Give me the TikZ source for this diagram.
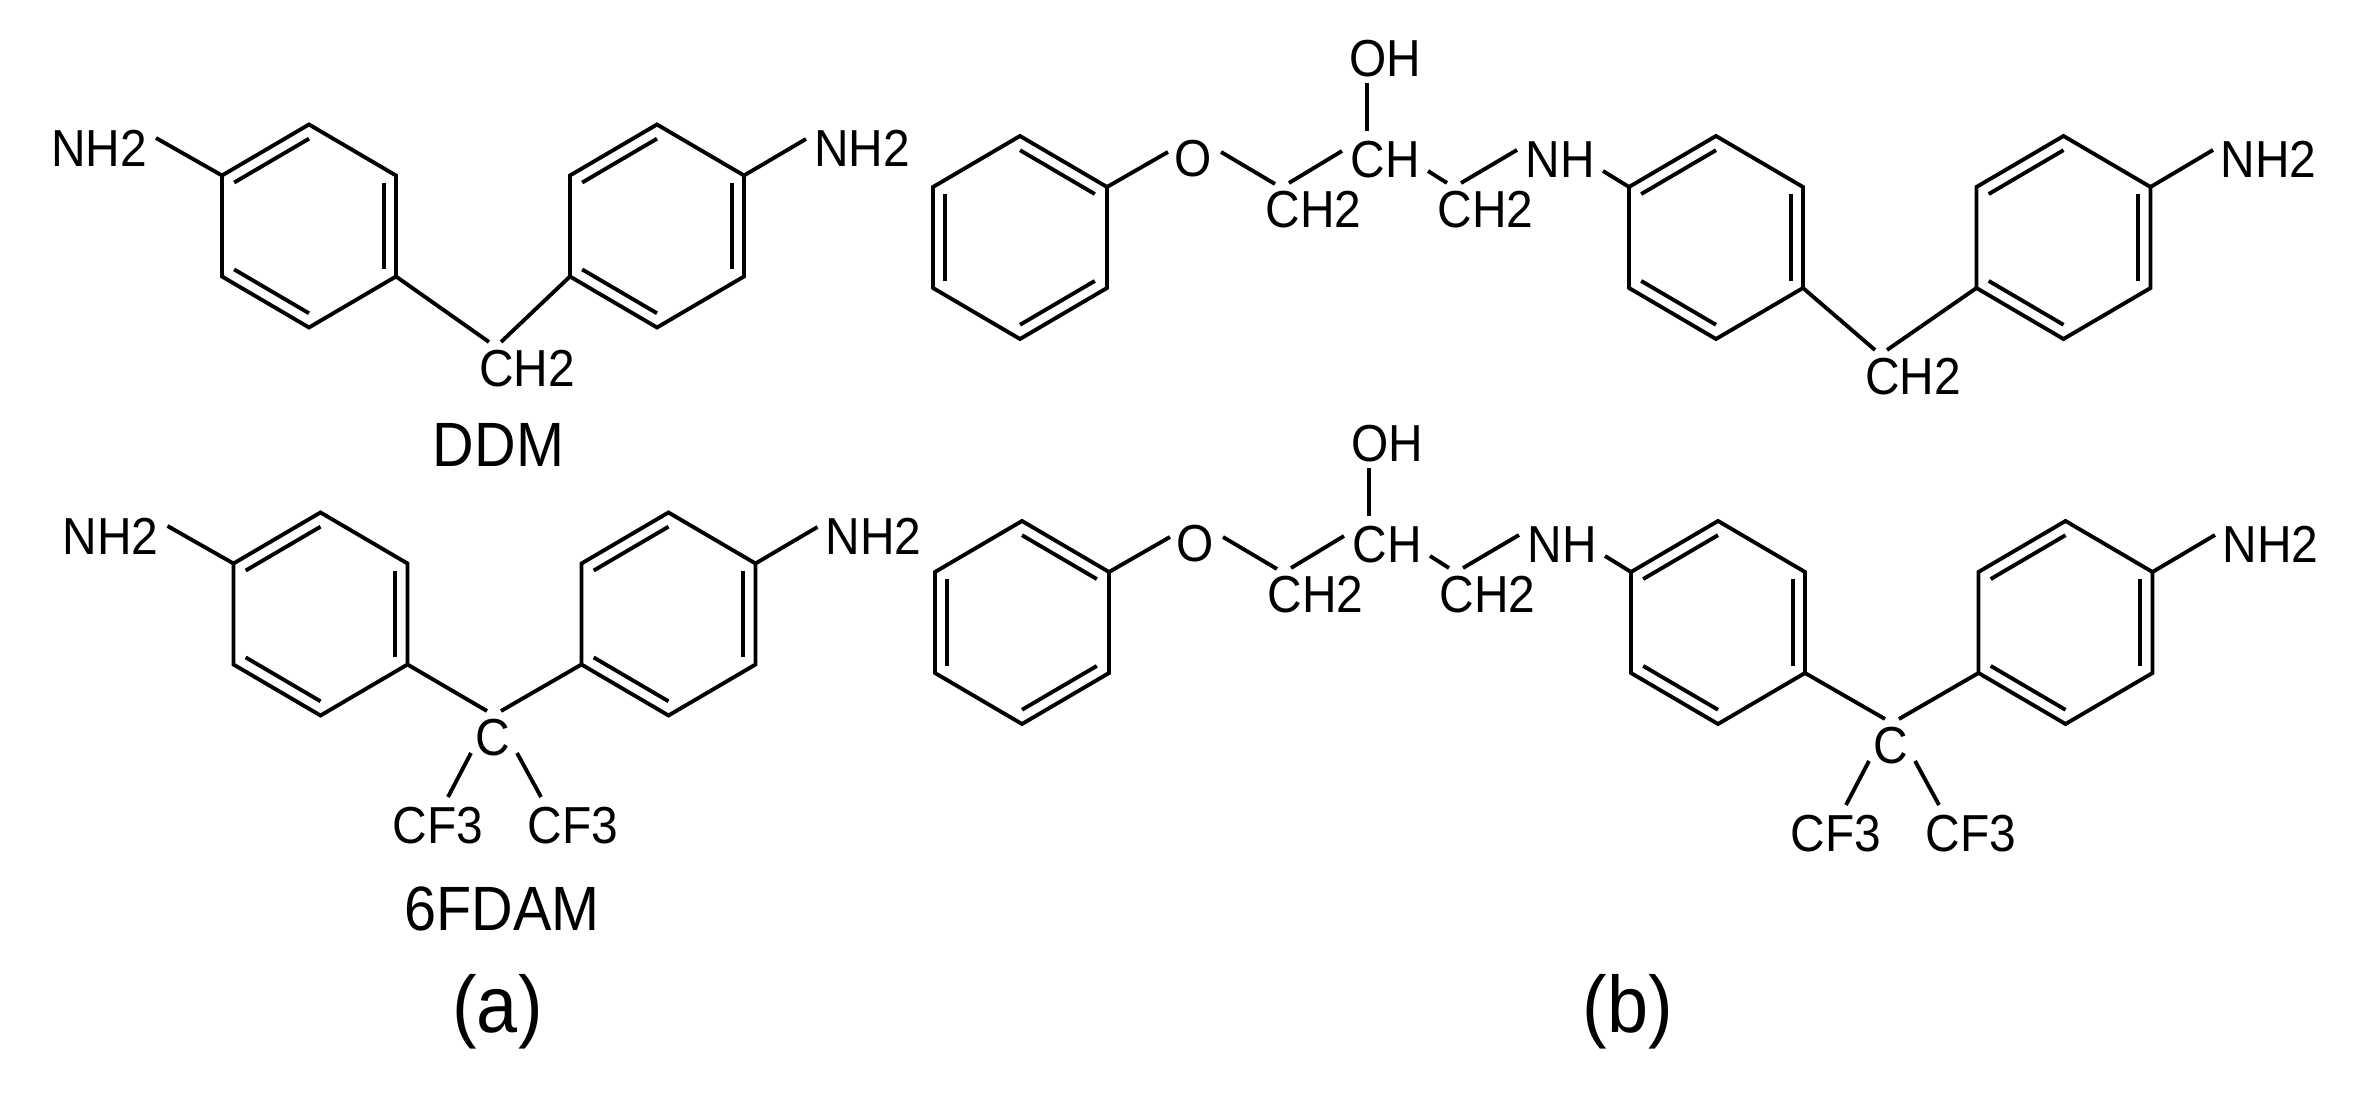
\documentclass[tikz,border=0pt]{standalone}
\usepackage{fontspec}
\setmainfont[FakeStretch=0.92]{Liberation Sans}
\usetikzlibrary{calc}

\tikzset{
    bond/.style={line width=1.1pt},
    atom/.style={inner sep=0pt, anchor=base, font=\fontsize{14.8}{16}\selectfont},
    molname/.style={inner sep=0pt, anchor=base, font=\fontsize{17.8}{19}\selectfont},
    panel/.style={inner sep=0pt, anchor=base, font=\fontsize{22.8}{25}\selectfont},
}

% name, centre x, centre y, double bonds
\newcommand{\benzene}[4]{
    \coordinate (#1c) at (#2, #3);
    \coordinate (#1v1) at (#2, #3-101.5);
    \coordinate (#1v2) at (#2+87, #3-50.5);
    \coordinate (#1v3) at (#2+87, #3+50.5);
    \coordinate (#1v4) at (#2, #3+101.5);
    \coordinate (#1v5) at (#2-87, #3+50.5);
    \coordinate (#1v6) at (#2-87, #3-50.5);
    \draw[bond] (#1v1) -- (#1v2) -- (#1v3) -- (#1v4) -- (#1v5) -- (#1v6) -- cycle;
    \foreach \p/\q in {#4}
        \draw[bond] ($(#1v\p)!.14!(#1c)$) -- ($(#1v\q)!.14!(#1c)$);
}

% name, first end, second end
\newcommand{\stick}[3]{
    \coordinate (#1a) at (#2);
    \coordinate (#1b) at (#3);
    \draw[bond] (#1a) -- (#1b);
}

% the two rings of panel (a) with their amine ends
\newcommand{\dianiline}[3]{
    \begin{scope}[shift={(#2, #3)}]
        \benzene{#1l}{309}{226}{6/1,2/3,5/4}
        \benzene{#1r}{657}{226}{6/1,2/3,5/4}
        \node[atom] (#1nl) at (99, 167) {NH2};
        \node[atom] (#1nr) at (862, 167) {NH2};
        \coordinate (#1el) at (156, 138);
        \coordinate (#1er) at (806, 139);
        \draw[bond] (#1lv6) -- (#1el);
        \draw[bond] (#1rv2) -- (#1er);
    \end{scope}
}

% the long molecule of panel (b)
\newcommand{\epoxyamine}[3]{
    \begin{scope}[shift={(#2, #3)}]
        \benzene{#1a}{1020}{237.5}{1/2,6/5,3/4}
        \benzene{#1b}{1716}{237.5}{6/1,2/3,5/4}
        \benzene{#1c}{2063.5}{237.5}{6/1,2/3,5/4}
        \node[atom] (#1o) at (1193, 177) {O};
        \node[atom] (#1oh) at (1385, 77) {OH};
        \node[atom] (#1ch) at (1385.5, 178) {CH};
        \node[atom] (#1cl) at (1313.5, 228) {CH2};
        \node[atom] (#1cr) at (1485.5, 228) {CH2};
        \node[atom] (#1nh) at (1560, 178) {NH};
        \node[atom] (#1nt) at (2268.5, 178) {NH2};
        \coordinate (#1eo) at (1168, 152);
        \coordinate (#1en) at (1603, 171);
        \coordinate (#1et) at (2213, 150);
        \draw[bond] (#1av2) -- (#1eo);
        \draw[bond] (#1en) -- (#1bv6);
        \draw[bond] (#1cv2) -- (#1et);
        \stick{#1s1}{1221, 152}{1275, 184}
        \stick{#1s2}{1289, 183}{1342, 151}
        \stick{#1s3}{1367, 83}{1367, 131}
        \stick{#1s4}{1428, 171}{1447, 183}
        \stick{#1s5}{1461, 183}{1517, 150}
    \end{scope}
}

% name, x, baseline y, left vertex, right vertex
\newcommand{\chbridge}[5]{
    \begin{scope}[shift={(#2, #3)}]
        \node[atom] (#1) at (0, 0) {CH2};
        \coordinate (#1l) at (-38, -45);
        \coordinate (#1r) at (-26, -45);
    \end{scope}
    \draw[bond] (#4) -- (#1l);
    \draw[bond] (#5) -- (#1r);
}

\newcommand{\cfbridge}[5]{
    \begin{scope}[shift={(#2, #3)}]
        \node[atom] (#1) at (0, 0) {C};
        \node[atom] (#1fl) at (-55, 88) {CF3};
        \node[atom] (#1fr) at (80, 88) {CF3};
        \coordinate (#1l) at (-6, -45);
        \coordinate (#1r) at (8, -45);
        \stick{#1sl}{-22, -3}{-45, 41}
        \stick{#1sr}{24, -3}{48, 41}
    \end{scope}
    \draw[bond] (#4) -- (#1l);
    \draw[bond] (#5) -- (#1r);
}

\begin{document}
\begin{tikzpicture}[x=0.01cm, y=-0.01cm]
    \useasboundingbox (0, 0) rectangle (2360, 1095);

    \dianiline{d}{0}{0}
    \chbridge{dm}{527}{387}{dlv3}{drv5}
    \node[molname] (ddm) at (498.5, 467) {DDM};

    \dianiline{f}{11.5}{388}
    \cfbridge{fm}{493}{756}{flv3}{frv5}
    \node[molname] (fdam) at (502, 931) {6FDAM};

    \epoxyamine{e}{0}{0}
    \chbridge{em}{1913}{395}{ebv3}{ecv5}

    \epoxyamine{g}{2}{385}
    \cfbridge{gm}{1891}{764}{gbv3}{gcv5}

    \node[panel] (pa) at (497.5, 1033) {(a)};
    \node[panel] (pb) at (1627.5, 1033) {(b)};
\end{tikzpicture}
\end{document}
